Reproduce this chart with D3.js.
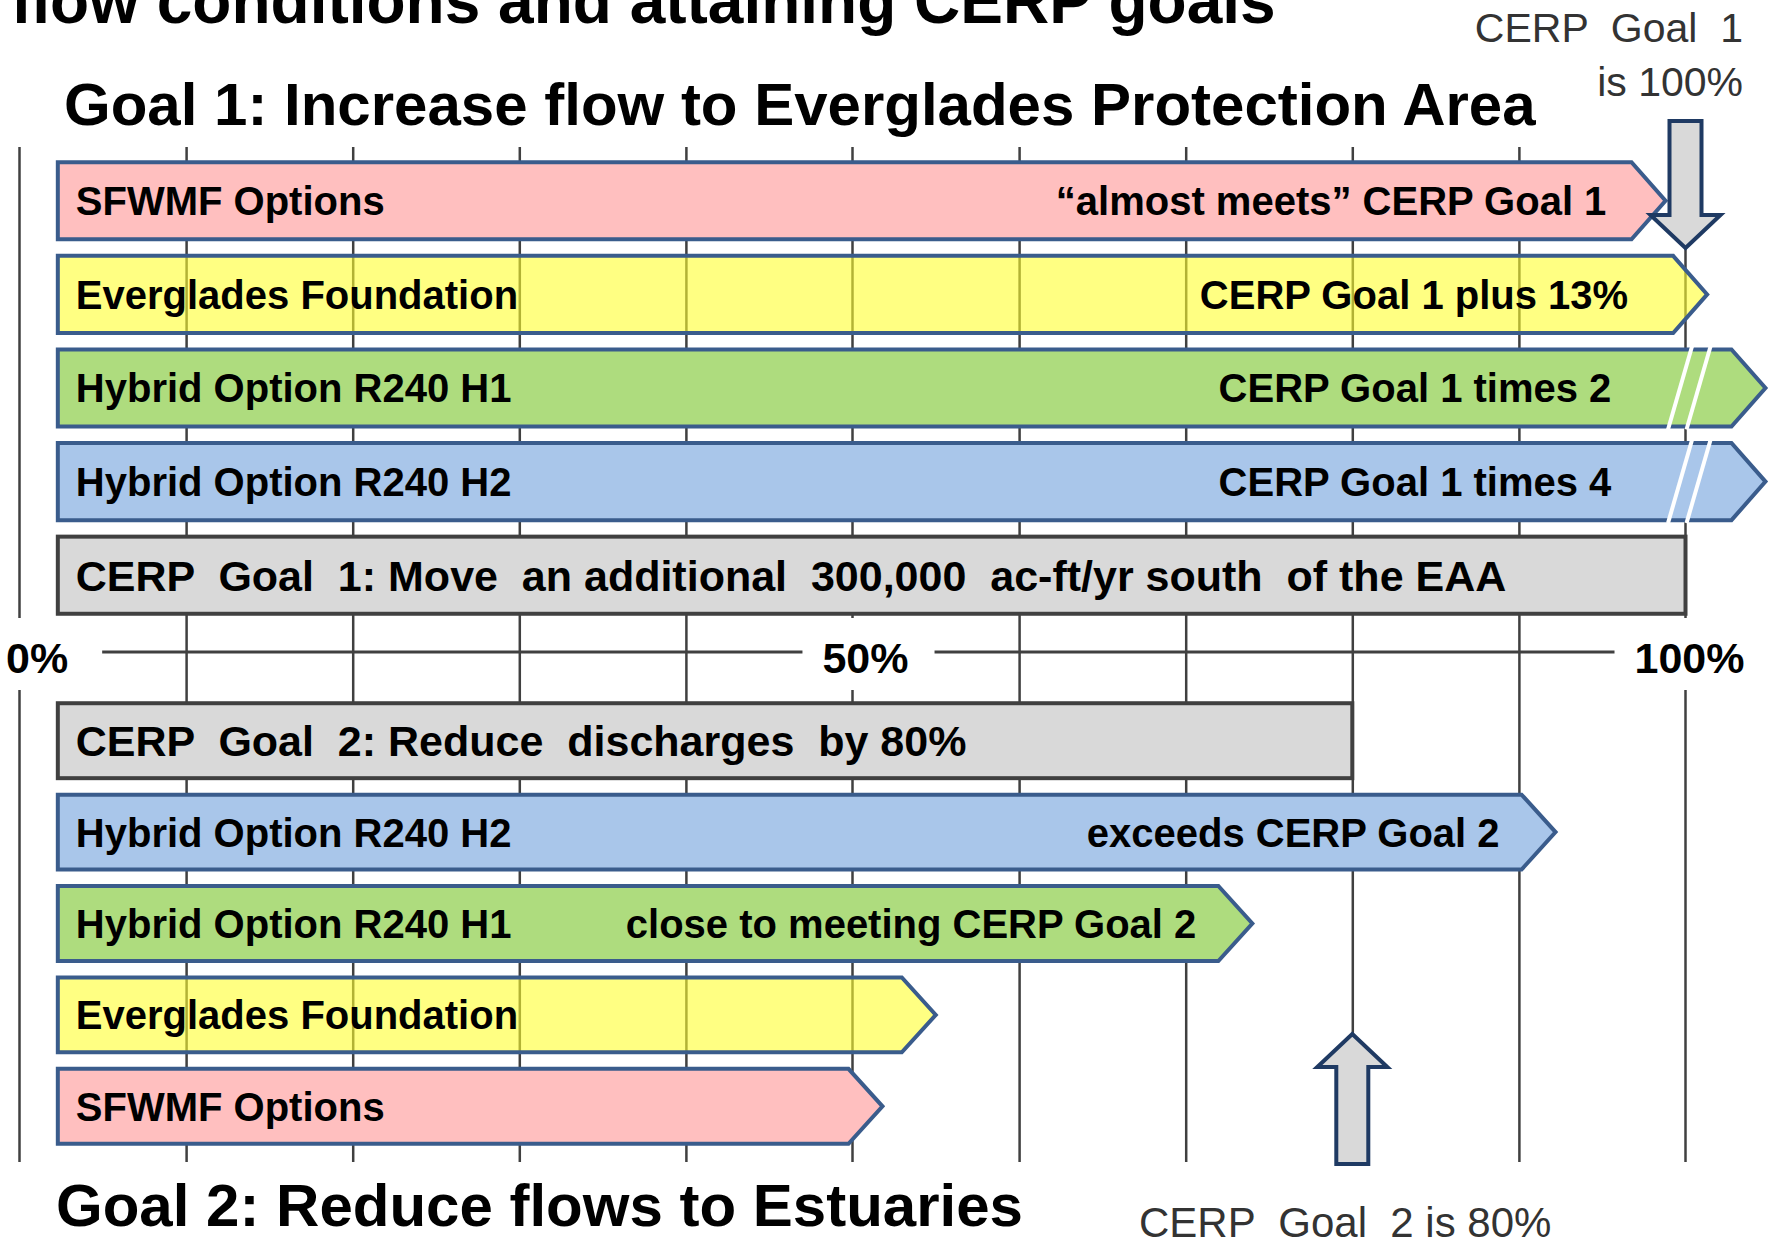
<!DOCTYPE html>
<html>
<head>
<meta charset="utf-8">
<script src="https://cdn.jsdelivr.net/npm/d3@7"></script>
<style>
body { margin: 0; background: #fff; }
svg text { font-family: 'Liberation Sans', Arial, sans-serif; white-space: pre; }
</style>
</head>
<body>
<div id="chart-area"></div>
<script>

// ---- data (percent of the CERP goal, as drawn) ----
var goal1Options = ["SFWMF Options", "Everglades Foundation", "Hybrid Option R240 H1", "Hybrid Option R240 H2"];
var goal1Notes   = ["\u201Calmost meets\u201D CERP Goal 1", "CERP Goal 1 plus 13%", "CERP Goal 1 times 2", "CERP Goal 1 times 4"];
var goal1Reach   = [98.8, 101.3, 104.8, 104.8];
var goal1Broken  = [false, false, true, true];
var goal1Target  = 100;
var goal1Text    = "CERP  Goal  1: Move  an additional  300,000  ac-ft/yr south  of the EAA";

var goal2Options = ["Hybrid Option R240 H2", "Hybrid Option R240 H1", "Everglades Foundation", "SFWMF Options"];
var goal2Notes   = ["exceeds CERP Goal 2", "close to meeting CERP Goal 2", "", ""];
var goal2Reach   = [92.2, 74.0, 55.0, 51.8];
var goal2Target  = 80;
var goal2Text    = "CERP  Goal  2: Reduce  discharges  by 80%";

var gridTicks  = [10, 20, 30, 40, 60, 70, 80, 90];
var splitTicks = [0, 50, 100];
var axisLabels = ["0%", "50%", "100%"];

// ---- layout ----
var total_width = 1777, total_height = 1237;
var barStart = 2.3, tipDepth = 34;
var gridTop = 147, gridBottom = 1162, axisY = 652;

var svg = d3.select('#chart-area').append('svg')
            .attr("width", total_width)
            .attr("height", total_height);

var x = d3.scaleLinear().domain([0, 100]).range([19.5, 1685.5]);

var yTop = d3.scaleBand().domain(d3.range(5)).range([154, 622])
             .paddingInner(0.176).paddingOuter(0.088);
var yBot = d3.scaleBand().domain(d3.range(5)).range([695, 1152])
             .paddingInner(0.18).paddingOuter(0.09);

var fillColor = d3.scaleOrdinal()
    .domain(["SFWMF Options", "Everglades Foundation", "Hybrid Option R240 H1", "Hybrid Option R240 H2"])
    .range(["#FFBFBF", "#FFFF2E", "#AEDC7E", "#A9C6EA"]);

var navy = "#3A5C8C";

// gridlines (behind the bars)
svg.append('g')
   .attr("transform", "translate(0," + gridTop + ")")
   .call(d3.axisBottom(x).tickValues(gridTicks).tickSize(gridBottom - gridTop).tickFormat(""))
   .call(function(g){ g.select(".domain").remove(); })
   .selectAll("line")
   .attr("stroke", "#404040")
   .attr("stroke-width", 2.5);

// 0 / 50 / 100 lines stop at the labels
splitTicks.forEach(function(v){
    [[gridTop, 618], [690, gridBottom]].forEach(function(seg){
        svg.append('line')
           .attr("x1", x(v)).attr("x2", x(v))
           .attr("y1", seg[0]).attr("y2", seg[1])
           .attr("stroke", "#404040").attr("stroke-width", 2.5);
    });
});

function arrowBar(reach, top, h){
    var x0 = x(barStart), xt = x(reach);
    return "M" + x0 + "," + top + "H" + (xt - tipDepth) + "L" + xt + "," + (top + h / 2) +
           "L" + (xt - tipDepth) + "," + (top + h) + "H" + x0 + "Z";
}

function drawSection(y, options, notes, reach, target, goalText, goalRow, noteEnd){
    var rows = options.map(function(o, i){
        return {name: o, note: notes[i], reach: reach[i], idx: i, row: goalRow == 0 ? i + 1 : i};
    });
    var h = y.bandwidth();

    // goal bar (plain rectangle up to the target)
    var gy = y(goalRow);
    svg.append('rect')
       .attr("x", x(barStart)).attr("y", gy)
       .attr("width", x(target) - x(barStart)).attr("height", h)
       .attr("fill", "#D9D9D9").attr("stroke", "#404040").attr("stroke-width", 4);
    svg.append('text')
       .attr("x", x(barStart) + 18).attr("y", gy + h / 2).attr("dy", "0.36em")
       .attr("font-size", "43px").attr("font-weight", "bold")
       .text(goalText);

    var g = svg.append('g');
    g.selectAll('path').data(rows).enter().append('path')
     .attr("d", function(d){ return arrowBar(d.reach, y(d.row), h); })
     .attr("fill", function(d){ return fillColor(d.name); })
     .attr("fill-opacity", function(d){ return d.name.indexOf("Everglades") == 0 ? 0.6 : 1; })
     .attr("stroke", navy).attr("stroke-width", 4).attr("stroke-linejoin", "miter");

    g.selectAll('text.name').data(rows).enter().append('text')
     .attr("class", "name")
     .attr("x", x(barStart) + 18)
     .attr("y", function(d){ return y(d.row) + h / 2; })
     .attr("dy", "0.36em")
     .attr("font-size", "40px").attr("font-weight", "bold")
     .text(function(d){ return d.name; });

    g.selectAll('text.note').data(rows).enter().append('text')
     .attr("class", "note")
     .attr("x", function(d){ return noteEnd(d); })
     .attr("y", function(d){ return y(d.row) + h / 2; })
     .attr("dy", "0.36em")
     .attr("text-anchor", "end")
     .attr("font-size", "40px").attr("font-weight", "bold")
     .text(function(d){ return d.note; });

    return rows;
}

var topRows = drawSection(yTop, goal1Options, goal1Notes, goal1Reach, goal1Target, goal1Text, 4,
                          function(d){
                              if (goal1Broken[d.idx]) return x(95.55);
                              return Math.max(x(95.25), x(d.reach) - tipDepth - 45);
                          });
var botRows = drawSection(yBot, goal2Options, goal2Notes, goal2Reach, goal2Target, goal2Text, 0,
                          function(d){ return x(d.reach) - tipDepth - 22; });

// break marks on the bars that run off the scale
topRows.forEach(function(d, i){
    if (!goal1Broken[i]) return;
    var t = yTop(d.row) - 3, b = yTop(d.row) + yTop.bandwidth() + 3;
    [-5.5, 13].forEach(function(off){
        svg.append('line')
           .attr("x1", x(100) + off - 12).attr("y1", b)
           .attr("x2", x(100) + off + 12).attr("y2", t)
           .attr("stroke", "#fff").attr("stroke-width", 4);
    });
});

// block arrows pointing at the targets
function blockArrow(cx, tipY, baseY, endY){
    var sw = 16, hw = 35;
    return "M" + cx + "," + tipY +
           "L" + (cx + hw) + "," + baseY + "H" + (cx + sw) + "V" + endY +
           "H" + (cx - sw) + "V" + baseY + "H" + (cx - hw) + "Z";
}
svg.append('path')
   .attr("d", blockArrow(x(goal1Target), 248, 215, 121))
   .attr("fill", "#D9D9D9").attr("stroke", "#1F3A63").attr("stroke-width", 4);
svg.append('path')
   .attr("d", blockArrow(x(goal2Target), 1034, 1067, 1164))
   .attr("fill", "#D9D9D9").attr("stroke", "#1F3A63").attr("stroke-width", 4);

// middle scale labels with the horizontal rule between them
var labels = svg.selectAll('text.axis').data(splitTicks).enter().append('text')
   .attr("class", "axis")
   .attr("y", axisY + 21)
   .attr("font-size", "43px").attr("font-weight", "bold")
   .attr("text-anchor", "middle")
   .text(function(d, i){ return axisLabels[i]; });
labels.attr("x", function(d){
    var w = this.getComputedTextLength();
    return Math.max(x(d) + (d == 50 ? 13 : 4), w / 2 + 6);
});
var boxes = labels.nodes().map(function(n){ return n.getBBox(); });
for (var i = 0; i < boxes.length - 1; i++){
    svg.append('line')
       .attr("x1", boxes[i].x + boxes[i].width + (i == 0 ? 34 : 26))
       .attr("x2", boxes[i + 1].x - 20)
       .attr("y1", axisY).attr("y2", axisY)
       .attr("stroke", "#404040").attr("stroke-width", 3);
}

// headings
svg.append('text').attr("x", 11).attr("y", 23)
   .attr("font-size", "64px").attr("font-weight", "bold")
   .text("flow conditions and attaining CERP goals");
svg.append('text').attr("x", 64).attr("y", 125)
   .attr("font-size", "60px").attr("font-weight", "bold")
   .text("Goal 1: Increase flow to Everglades Protection Area");
svg.append('text').attr("x", 56).attr("y", 1226)
   .attr("font-size", "60px").attr("font-weight", "bold")
   .text("Goal 2: Reduce flows to Estuaries");

svg.append('text').attr("x", 1743).attr("y", 42)
   .attr("text-anchor", "end").attr("font-size", "41px").attr("fill", "#333")
   .text("CERP  Goal  1");
svg.append('text').attr("x", 1743).attr("y", 96)
   .attr("text-anchor", "end").attr("font-size", "41px").attr("fill", "#333")
   .text("is 100%");
svg.append('text').attr("x", 1139).attr("y", 1237)
   .attr("font-size", "42px").attr("fill", "#333")
   .text("CERP  Goal  2 is 80%");

</script>
</body>
</html>
